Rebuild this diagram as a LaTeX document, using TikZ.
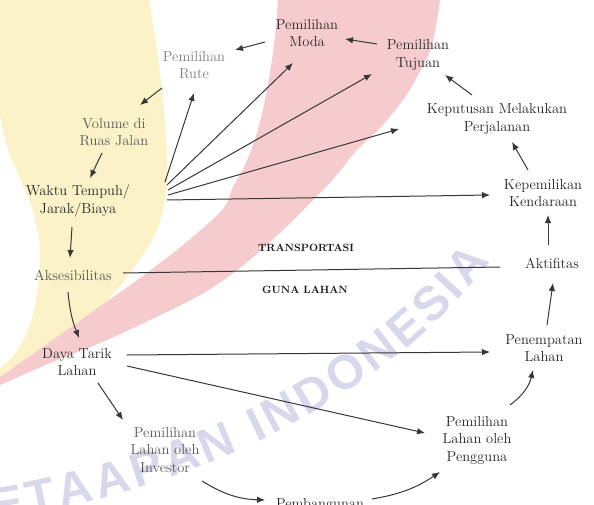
\documentclass[tikz,border=0pt]{standalone}
\usepackage{fontspec}
\newfontfamily\wmfont{Liberation Sans}
\usetikzlibrary{arrows.meta,calc,decorations.text}
\definecolor{bgyellow}{RGB}{251,242,200}
\definecolor{bgpink}{RGB}{246,203,206}
\definecolor{wmcol}{RGB}{216,216,236}
\definecolor{linecol}{RGB}{55,55,55}
\begin{document}
\begin{tikzpicture}[x=1pt,y=-1pt,
  lbl/.style={font=\fontsize{14.5}{17.5}\selectfont, align=center, text=black!85, inner sep=1pt},
  lbllt/.style={lbl, text=black!65},
  sect/.style={font=\fontsize{10.5}{12}\selectfont\bfseries, text=black!90},
  arr/.style={draw=linecol, line width=1pt, -{Latex[length=8pt,width=6.5pt]}},
  plainline/.style={draw=linecol, line width=1pt},
]
\useasboundingbox (0,0) rectangle (594,505);
\fill[white] (0,0) rectangle (594,505);
% yellow region
\fill[bgyellow] (0,0) -- plot[smooth, tension=0.6] coordinates {(149,0) (157,50) (163,100) (166,140) (167,175) (165,200) (158,228) (147,248) (130,273) (108,300) (80,330) (40,360) (0,385)}
  -- plot[smooth, tension=0.6] coordinates {(0,368) (18,350) (32,318) (38,285) (40,250) (34,215) (22,183) (8,150) (0,115)} -- cycle;
% pink band
\fill[bgpink] plot[smooth, tension=0.6] coordinates {(278,0) (274,45) (266,95) (257,133) (245,165) (233,187) (222,210) (183,245) (140,278) (95,310) (50,342) (0,377)}
  -- plot[smooth, tension=0.6] coordinates {(0,385) (50,363) (100,343) (150,320) (200,295) (240,268) (283,230) (313,200) (335,177) (357,150) (380,128) (403,100) (418,75) (432,45) (440,0)} -- cycle;
% watermark
\path[decorate, decoration={text along path, text align={fit to path}, text color=wmcol,
  text={|\wmfont\bfseries\fontsize{48}{48}\selectfont|ETAAPAN INDONESIA}}]
  (-6,522) .. controls (190,490) and (380,405) .. (490,262);
% nodes
\node[lbl, text=black!50] (rute) at (194,65) {Pemilihan\\Rute};
\node[lbl] (moda) at (307,33) {Pemilihan\\Moda};
\node[lbl] (tujuan) at (418,55) {Pemilihan\\Tujuan};
\node[lbl] (keputusan) at (497,119) {Keputusan Melakukan\\Perjalanan};
\node[lbl] (kepemilikan) at (543,193) {Kepemilikan\\Kendaraan};
\node[lbl] (aktifitas) at (552,263) {Aktifitas};
\node[lbl] (penempatan) at (544,348) {Penempatan\\Lahan};
\node[lbl] (pengguna) at (477,440) {Pemilihan\\Lahan oleh\\Pengguna};
\node[lbl] (pembangunan) at (320,505) {Pembangunan};
\node[lbllt] (investor) at (165,450) {Pemilihan\\Lahan oleh\\Investor};
\node[lbl] (dayatarik) at (77,362) {Daya Tarik\\Lahan};
\node[lbllt] (akses) at (73,275) {Aksesibilitas};
\node[lbl] (waktu) at (78,201) {Waktu Tempuh/\\Jarak/Biaya};
\node[lbllt] (volume) at (114,132) {Volume di\\Ruas Jalan};
\node[sect] (transport) at (306,248) {TRANSPORTASI};
\node[sect] (gunalahan) at (305,290) {GUNA LAHAN};
% connectors
\draw[arr] ($(rute)+(-32,23)$) -- ($(volume)+(26,-27)$);
\draw[arr] ($(moda)+(-42,9)$) -- ($(rute)+(41,-15)$);
\draw[arr] ($(tujuan)+(-41,-11)$) -- ($(moda)+(38,6)$);
\draw[arr] ($(keputusan)+(-25,-24)$) -- ($(tujuan)+(27,20)$);
\draw[arr] ($(kepemilikan)+(-15,-23)$) -- ($(keputusan)+(15,23)$);
\draw[arr] ($(aktifitas)+(-4,-18)$) -- ($(kepemilikan)+(5,22)$);
\draw[arr] ($(penempatan)+(3,-23)$) -- ($(aktifitas)+(1,20)$);
\draw[arr] ($(pengguna)+(33,-35)$) to[bend right=20] ($(penempatan)+(-11,22)$);
\draw[arr] ($(pembangunan)+(52,-6)$) to[bend right=12] ($(pengguna)+(-37,32)$);
\draw[arr] ($(investor)+(37,31)$) to[bend right=15] ($(pembangunan)+(-55,-5)$);
\draw[arr] ($(dayatarik)+(21,21)$) -- ($(investor)+(-42,-30)$);
\draw[arr] ($(akses)+(-5,17)$) to[bend right=8] ($(dayatarik)+(2,-24)$);
\draw[arr] ($(waktu)+(-6,26)$) -- ($(akses)+(-3,-17)$);
\draw[arr] ($(volume)+(-12,21)$) -- ($(waktu)+(12,-23)$);
% fan from waktu
\draw[arr] ($(waktu)+(87,-19)$) -- ($(rute)+(0,28)$);
\draw[arr] ($(waktu)+(89,-16)$) -- ($(moda)+(-14,30)$);
\draw[arr] ($(waktu)+(90,-11)$) -- ($(tujuan)+(-46,19)$);
\draw[arr] ($(waktu)+(90,-6)$) -- ($(keputusan)+(-98,10)$);
\draw[arr] ($(waktu)+(89,-1)$) -- ($(kepemilikan)+(-53,2)$);
% land use links
\draw[arr] ($(dayatarik)+(50,-7)$) -- ($(penempatan)+(-54,4)$);
\draw[arr] ($(dayatarik)+(50,4)$) -- ($(pengguna)+(-52,-7)$);
% divider line
\draw[plainline] ($(akses)+(50,-2)$) -- ($(aktifitas)+(-52,4)$);
\end{tikzpicture}
\end{document}
